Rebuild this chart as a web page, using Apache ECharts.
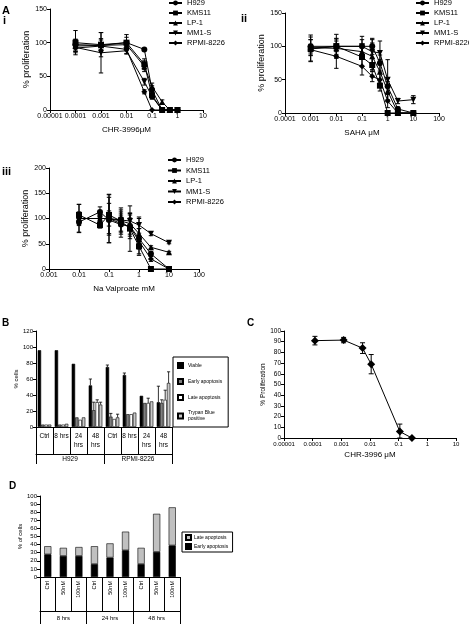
<!DOCTYPE html>
<html><head><meta charset="utf-8">
<script src="https://cdn.jsdelivr.net/npm/echarts/dist/echarts.min.js"></script>
<style>html,body{margin:0;padding:0;background:#fff}#c{width:469px;height:624px}</style>
</head><body><div id="c"></div>
<script>
// ---------- DATA ----------
const cellLines = ['H929', 'KMS11', 'LP-1', 'MM1-S', 'RPMI-8226'];
const symbols = ['circle', 'rect', 'triangle', 'path://M0,0 L10,0 L5,10 Z', 'diamond'];

// Panel A i : CHR-3996 (uM)
const xAi = [0.0001, 0.001, 0.01, 0.05, 0.1, 0.25, 0.5, 1];
const yAi_H929 = [97, 96, 100, 90, 30, 0, 0, 0];
const yAi_KMS11 = [100, 97, 100, 68, 22, 0, 0, 0];
const yAi_LP1 = [95, 96, 97, 65, 35, 12, 0, 0];
const yAi_MM1S = [93, 85, 88, 42, 20, 0, 0, 0];
const yAi_RPMI = [92, 95, 90, 27, 0, 0, 0, 0];
const eAi_H929 = [8, 10, 12, 0, 6, 3, 0, 0];
const eAi_KMS11 = [18, 18, 8, 8, 5, 0, 0, 0];
const eAi_LP1 = [10, 8, 6, 8, 5, 3, 0, 0];
const eAi_MM1S = [6, 30, 5, 5, 4, 0, 0, 0];
const eAi_RPMI = [5, 5, 6, 3, 0, 0, 0, 0];

// Panel A ii : SAHA (uM)
const xAii = [0.001, 0.01, 0.1, 0.25, 0.5, 1, 2.5, 10];
const yAii_H929 = [100, 100, 100, 100, 75, 40, 6, 0];
const yAii_KMS11 = [96, 100, 84, 72, 41, 0, 0, 0];
const yAii_LP1 = [98, 97, 92, 85, 62, 33, 0, 0];
const yAii_MM1S = [97, 100, 100, 92, 90, 50, 18, 20];
const yAii_RPMI = [95, 85, 70, 55, 50, 18, 0, 0];
const eAii_H929 = [10, 8, 10, 12, 12, 12, 3, 0];
const eAii_KMS11 = [18, 12, 14, 10, 8, 0, 0, 0];
const eAii_LP1 = [12, 14, 10, 20, 18, 14, 0, 0];
const eAii_MM1S = [20, 18, 15, 18, 18, 30, 4, 6];
const eAii_RPMI = [8, 18, 13, 8, 10, 10, 0, 0];

// Panel A iii : Na Valproate (mM)
const xAiii = [0.01, 0.05, 0.1, 0.25, 0.5, 1, 2.5, 10];
const yAiii_H929 = [93, 113, 97, 88, 85, 60, 30, 0];
const yAiii_KMS11 = [107, 87, 107, 95, 80, 45, 0, 0];
const yAiii_LP1 = [100, 100, 100, 95, 90, 70, 43, 33];
const yAiii_MM1S = [100, 100, 100, 97, 95, 87, 70, 52];
const yAiii_RPMI = [100, 100, 100, 90, 83, 55, 20, 0];
const eAiii_H929 = [20, 10, 45, 25, 25, 20, 5, 0];
const eAiii_KMS11 = [21, 6, 40, 26, 45, 18, 0, 0];
const eAiii_LP1 = [28, 8, 48, 22, 21, 30, 3, 2];
const eAiii_MM1S = [10, 6, 15, 12, 12, 16, 4, 2];
const eAiii_RPMI = [12, 8, 30, 15, 18, 25, 5, 0];

// Panel B
const catB = ['Ctrl', '8 hrs', '24\nhrs', '48\nhrs', 'Ctrl', '8 hrs', '24\nhrs', '48\nhrs'];
const groupB = ['H929', 'RPMI-8226'];
const seriesB = ['Viable', 'Early apoptosis', 'Late apoptosis', 'Trypan Blue positive'];
const viableB = [96, 96, 79, 52, 75, 65, 39, 31];
const earlyB = [3, 3, 12, 21, 13, 16, 30, 30];
const lateB = [3, 3, 9, 31, 10, 16, 30, 34];
const trypanB = [3, 4, 12, 28, 12, 18, 32, 55];
const viableErrB = [0, 0, 0, 8, 2.5, 2.5, 0, 20];
const earlyErrB = [0, 0, 0, 10, 4, 0, 0, 4];
const lateErrB = [0, 0, 0, 3, 0, 0, 6, 12];
const trypanErrB = [0, 0, 0, 3, 4, 0, 0, 14];

// Panel C : CHR-3996 uM
const xC = [0.00012, 0.0012, 0.0055, 0.011, 0.11, 0.29];
const yC = [91, 91.5, 84, 69, 6, 0];
const eC = [4, 2.5, 5, 9, 7, 0];

// Panel D
const catD = ['Ctrl', '50nM', '100nM', 'Ctrl', '50nM', '100nM', 'Ctrl', '50nM', '100nM'];
const groupD = ['8 hrs', '24 hrs', '48 hrs'];
const earlyD = [28, 26, 26, 16, 24, 33, 16, 31, 39];
const lateD = [10, 10, 11, 22, 17.5, 23, 20, 47, 47];

// ---------- HELPERS ----------
const FONT = 'Liberation Sans, Arial, sans-serif';
function logFmt(v) {
  const e = Math.round(Math.log10(v));
  return e < 0 ? Number(Math.pow(10, e)).toFixed(-e) : String(Math.round(Math.pow(10, e)));
}
function errRenderer(capHalf) {
  return function (params, api) {
    const x = api.value(0), y = api.value(1), e = api.value(2);
    if (!e) return null;
    const lo = Math.max(0, y - e), hi = y + e;
    const pL = api.coord([x, lo]), pH = api.coord([x, hi]);
    const st = { stroke: '#000', lineWidth: 1 };
    return { type: 'group', children: [
      { type: 'line', shape: { x1: pL[0], y1: pL[1], x2: pH[0], y2: pH[1] }, style: st },
      { type: 'line', shape: { x1: pH[0] - capHalf, y1: pH[1], x2: pH[0] + capHalf, y2: pH[1] }, style: st },
      { type: 'line', shape: { x1: pL[0] - capHalf, y1: pL[1], x2: pL[0] + capHalf, y2: pL[1] }, style: st }
    ]};
  };
}
function barErrRenderer(pos) {
  return function (params, api) {
    const c = api.value(0), v = api.value(1), e = api.value(2);
    if (!e) return null;
    const bw = api.size([1, 0])[0];
    const off = (pos - 1.5) * bw * 0.2;
    const p0 = api.coord([c, v]), p1 = api.coord([c, v + e]);
    const x = p0[0] + off;
    const st = { stroke: '#000', lineWidth: 0.8 };
    return { type: 'group', children: [
      { type: 'line', shape: { x1: x, y1: p0[1], x2: x, y2: p1[1] }, style: st },
      { type: 'line', shape: { x1: x - 1.6, y1: p1[1], x2: x + 1.6, y2: p1[1] }, style: st }
    ]};
  };
}
const axisLineBlack = { show: true, lineStyle: { color: '#000', width: 1 } };
function logXAxis(gi, min, max, name, nameGap, fs) {
  return { type: 'log', logBase: 10, gridIndex: gi, min: min, max: max,
    axisLine: axisLineBlack, axisTick: { show: true, length: 3, lineStyle: { color: '#000' } },
    minorTick: { show: false }, splitLine: { show: false },
    axisLabel: { formatter: logFmt, fontSize: fs, color: '#000', fontFamily: FONT, margin: 3 },
    name: name, nameLocation: 'middle', nameGap: nameGap,
    nameTextStyle: { fontSize: 8, color: '#000', fontFamily: FONT } };
}
function valYAxis(gi, max, interval, name, nameGap, fs, nfs) {
  return { type: 'value', gridIndex: gi, min: 0, max: max, interval: interval,
    axisLine: axisLineBlack, axisTick: { show: true, length: 3, lineStyle: { color: '#000' } },
    splitLine: { show: false },
    axisLabel: { fontSize: fs, color: '#000', fontFamily: FONT, margin: 3 },
    name: name, nameLocation: 'middle', nameGap: nameGap,
    nameTextStyle: { fontSize: nfs, color: '#000', fontFamily: FONT } };
}

const series = [];
function addPanelA(axisIdx, xs, ys, es) {
  cellLines.forEach(function (nm, i) {
    series.push({ type: 'line', name: nm, xAxisIndex: axisIdx, yAxisIndex: axisIdx,
      data: xs.map(function (x, j) { return [x, ys[i][j]]; }),
      symbol: symbols[i], symbolSize: 6, lineStyle: { color: '#000', width: 1 },
      itemStyle: { color: '#000' }, z: 3, animation: false });
    series.push({ type: 'custom', xAxisIndex: axisIdx, yAxisIndex: axisIdx,
      renderItem: errRenderer(2.2),
      data: xs.map(function (x, j) { return [x, ys[i][j], es[i][j]]; }), z: 2, animation: false });
  });
}
addPanelA(0, xAi, [yAi_H929, yAi_KMS11, yAi_LP1, yAi_MM1S, yAi_RPMI],
  [eAi_H929, eAi_KMS11, eAi_LP1, eAi_MM1S, eAi_RPMI]);
addPanelA(1, xAii, [yAii_H929, yAii_KMS11, yAii_LP1, yAii_MM1S, yAii_RPMI],
  [eAii_H929, eAii_KMS11, eAii_LP1, eAii_MM1S, eAii_RPMI]);
addPanelA(2, xAiii, [yAiii_H929, yAiii_KMS11, yAiii_LP1, yAiii_MM1S, yAiii_RPMI],
  [eAiii_H929, eAiii_KMS11, eAiii_LP1, eAiii_MM1S, eAiii_RPMI]);

// Panel B bars (xAxis 3 & yAxis 3)
const colorsB = ['#000000', '#7f7f7f', '#ffffff', '#c8c8c8'];
[viableB, earlyB, lateB, trypanB].forEach(function (vals, k) {
  series.push({ type: 'bar', name: seriesB[k], xAxisIndex: 3, yAxisIndex: 3, data: vals,
    barWidth: '20%', barGap: '0%',
    itemStyle: { color: colorsB[k], borderColor: '#000', borderWidth: 0.6 }, animation: false });
});
[viableErrB, earlyErrB, lateErrB, trypanErrB].forEach(function (errs, k) {
  const vals = [viableB, earlyB, lateB, trypanB][k];
  series.push({ type: 'custom', xAxisIndex: 3, yAxisIndex: 3, renderItem: barErrRenderer(k),
    data: vals.map(function (v, j) { return [j, v, errs[j]]; }), z: 4, animation: false });
});

// Panel C (xAxis 5, yAxis 4)
series.push({ type: 'line', name: 'C', xAxisIndex: 5, yAxisIndex: 4,
  data: xC.map(function (x, j) { return [x, yC[j]]; }), symbol: 'diamond', symbolSize: 8,
  lineStyle: { color: '#000', width: 1 }, itemStyle: { color: '#000' }, z: 3, animation: false });
series.push({ type: 'custom', xAxisIndex: 5, yAxisIndex: 4, renderItem: errRenderer(2.5),
  data: xC.map(function (x, j) { return [x, yC[j], eC[j]]; }), z: 2, animation: false });

// Panel D stacked bars (xAxis 6, yAxis 5)
series.push({ type: 'bar', name: 'Early apoptosis ', xAxisIndex: 6, yAxisIndex: 5, stack: 'd', data: earlyD,
  barWidth: '46%', itemStyle: { color: '#000', borderColor: '#000', borderWidth: 0.6 }, animation: false });
series.push({ type: 'bar', name: 'Late apoptosis ', xAxisIndex: 6, yAxisIndex: 5, stack: 'd', data: lateD,
  barWidth: '46%', itemStyle: { color: '#c0c0c0', borderColor: '#000', borderWidth: 0.6 }, animation: false });

const legendA = function (left, top, gap) {
  return { data: cellLines, orient: 'vertical', left: left, top: top, padding: 0, itemGap: gap,
    itemWidth: 13, itemHeight: 6, selectedMode: false,
    textStyle: { fontSize: 7.5, color: '#000', fontFamily: FONT, padding: [0, 0, 0, 0] } };
};

const txt = function (x, y, s, fs) {
  return { type: 'text', left: x, top: y, style: { text: s, font: 'bold ' + fs + 'px ' + FONT, fill: '#000' } };
};

const option = {
  backgroundColor: '#fff',
  textStyle: { fontFamily: FONT },
  grid: [
    { left: 50, top: 9, width: 153, height: 101 },
    { left: 285, top: 13, width: 154, height: 100 },
    { left: 49, top: 168, width: 150, height: 101 },
    { left: 36, top: 331, width: 136, height: 96 },
    { left: 284, top: 331, width: 172, height: 107 },
    { left: 40, top: 496, width: 140, height: 81 }
  ],
  xAxis: [
    logXAxis(0, 0.00001, 10, 'CHR-3996\u03bcM', 16, 7),
    logXAxis(1, 0.0001, 100, 'SAHA \u03bcM', 16, 7),
    logXAxis(2, 0.001, 100, 'Na Valproate mM', 16, 7),
    { type: 'category', gridIndex: 3, data: catB, axisLine: axisLineBlack,
      axisTick: { show: true, length: 27, lineStyle: { color: '#000' } },
      axisLabel: { fontSize: 6.5, color: '#000', fontFamily: FONT, margin: 5, lineHeight: 9, interval: 0 } },
    { type: 'category', gridIndex: 3, data: groupB, position: 'bottom', offset: 27, axisLine: axisLineBlack,
      axisTick: { show: true, length: 10, lineStyle: { color: '#000' } },
      axisLabel: { fontSize: 6.5, color: '#000', fontFamily: FONT, margin: 2, interval: 0 } },
    logXAxis(4, 0.00001, 10, 'CHR-3996 \u03bcM', 13, 6),
    { type: 'category', gridIndex: 5, data: catD, axisLine: axisLineBlack,
      axisTick: { show: true, length: 34, lineStyle: { color: '#000' } },
      axisLabel: { fontSize: 5.5, color: '#000', fontFamily: FONT, margin: 4, rotate: 90, interval: 0 } },
    { type: 'category', gridIndex: 5, data: groupD, position: 'bottom', offset: 34, axisLine: axisLineBlack,
      axisTick: { show: true, length: 13, lineStyle: { color: '#000' } },
      axisLabel: { fontSize: 6, color: '#000', fontFamily: FONT, margin: 4, interval: 0 } }
  ],
  yAxis: [
    valYAxis(0, 150, 50, '% proliferation', 19, 7, 9),
    valYAxis(1, 150, 50, '% proliferation', 19, 7, 9),
    valYAxis(2, 200, 50, '% proliferation', 19, 7, 9),
    valYAxis(3, 120, 20, '% cells', 17, 6, 6),
    valYAxis(4, 100, 10, '% Proliferation', 17, 6.5, 6.5),
    valYAxis(5, 100, 10, '% of cells', 17, 6, 6)
  ],
  legend: [
    legendA(168, -1, 2),
    legendA(415, -1, 2),
    legendA(167, 156, 2.5),
    { data: seriesB, orient: 'vertical', left: 173, top: 357, padding: [5, 6, 5, 4], itemGap: 9,
      itemWidth: 5, itemHeight: 5, icon: 'rect', selectedMode: false, borderColor: '#000', borderWidth: 1,
      formatter: function (n) { return n === 'Trypan Blue positive' ? 'Trypan Blue\npositive' : n; },
      textStyle: { fontSize: 5, color: '#000', fontFamily: FONT, lineHeight: 6 } },
    { data: ['Late apoptosis ', 'Early apoptosis '], orient: 'vertical', left: 182, top: 532,
      padding: [2, 3, 2, 3], itemGap: 2, itemWidth: 5, itemHeight: 5, icon: 'rect', selectedMode: false,
      borderColor: '#000', borderWidth: 1,
      textStyle: { fontSize: 5, color: '#000', fontFamily: FONT, padding: [0, 0, 0, -2] } }
  ],
  graphic: [
    txt(2, 5, 'A', 11), txt(3, 15, 'i', 11),
    txt(241, 13, 'ii', 11),
    txt(2, 166, 'iii', 11),
    txt(2, 318, 'B', 10),
    txt(247, 318, 'C', 10),
    txt(9, 481, 'D', 10)
  ],
  series: series
};
const chart = echarts.init(document.getElementById('c'), null, { renderer: 'canvas' });
chart.setOption(option);
</script></body></html>
